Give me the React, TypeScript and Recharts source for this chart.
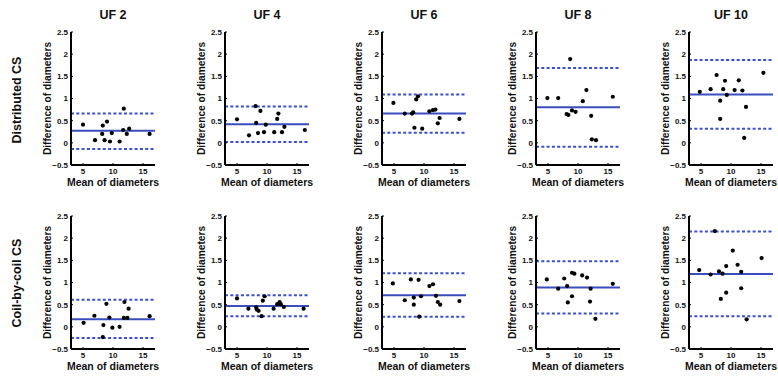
import React from 'react';
import { ScatterChart, Scatter, XAxis, YAxis, ReferenceLine } from 'recharts';

// ---------- categories / labels ----------
const ufLabels = ['UF 2', 'UF 4', 'UF 6', 'UF 8', 'UF 10'];
const rowLabels = ['Distributed CS', 'Coil-by-coil CS'];
const xTicks = [5, 10, 15];
const yTicks = [-0.5, 0, 0.5, 1, 1.5, 2, 2.5];
const yTickLabels = ['\u22120.5', '0', '0.5', '1', '1.5', '2', '2.5'];
const xLabel = 'Mean of diameters';
const yLabel = 'Difference of diameters';

// ---------- Distributed CS ----------
const distUF2 = [
  { x: 5.0, y: 0.41 }, { x: 7.0, y: 0.06 }, { x: 8.3, y: 0.39 }, { x: 8.2, y: 0.2 },
  { x: 8.6, y: 0.06 }, { x: 9.0, y: 0.48 }, { x: 9.5, y: 0.03 }, { x: 9.8, y: 0.22 },
  { x: 11.1, y: 0.03 }, { x: 11.8, y: 0.77 }, { x: 11.7, y: 0.29 }, { x: 12.3, y: 0.2 },
  { x: 12.7, y: 0.32 }, { x: 16.1, y: 0.2 },
];
const distUF4 = [
  { x: 5.0, y: 0.53 }, { x: 7.0, y: 0.17 }, { x: 8.1, y: 0.83 }, { x: 8.2, y: 0.45 },
  { x: 8.5, y: 0.22 }, { x: 8.9, y: 0.72 }, { x: 9.5, y: 0.24 }, { x: 9.8, y: 0.41 },
  { x: 11.2, y: 0.24 }, { x: 11.7, y: 0.54 }, { x: 11.9, y: 0.66 }, { x: 12.5, y: 0.24 },
  { x: 12.9, y: 0.36 }, { x: 16.3, y: 0.29 },
];
const distUF6 = [
  { x: 4.9, y: 0.9 }, { x: 6.8, y: 0.66 }, { x: 8.0, y: 0.66 }, { x: 8.2, y: 0.69 },
  { x: 8.7, y: 0.98 }, { x: 9.0, y: 1.05 }, { x: 8.4, y: 0.34 }, { x: 9.7, y: 0.32 },
  { x: 10.9, y: 0.71 }, { x: 11.5, y: 0.74 }, { x: 11.9, y: 0.75 }, { x: 12.3, y: 0.44 },
  { x: 12.6, y: 0.56 }, { x: 15.9, y: 0.54 },
];
const distUF8 = [
  { x: 4.9, y: 1.01 }, { x: 6.7, y: 1.01 }, { x: 8.7, y: 1.89 }, { x: 8.1, y: 0.65 },
  { x: 8.4, y: 0.63 }, { x: 9.0, y: 0.73 }, { x: 9.6, y: 0.7 }, { x: 10.8, y: 0.94 },
  { x: 11.4, y: 1.19 }, { x: 12.2, y: 0.61 }, { x: 12.3, y: 0.08 }, { x: 13.0, y: 0.06 },
  { x: 15.8, y: 1.04 },
];
const distUF10 = [
  { x: 4.8, y: 1.15 }, { x: 6.6, y: 1.21 }, { x: 7.6, y: 1.53 }, { x: 8.2, y: 0.95 },
  { x: 8.2, y: 0.54 }, { x: 8.7, y: 1.21 }, { x: 9.0, y: 1.4 }, { x: 9.3, y: 1.08 },
  { x: 10.6, y: 1.19 }, { x: 11.3, y: 1.41 }, { x: 11.9, y: 1.18 }, { x: 12.5, y: 0.81 },
  { x: 12.2, y: 0.11 }, { x: 15.4, y: 1.58 },
];
const distMean = [0.27, 0.42, 0.66, 0.8, 1.09];
const distUpper = [0.66, 0.82, 1.09, 1.69, 1.87];
const distLower = [-0.14, 0.02, 0.23, -0.09, 0.32];

// ---------- Coil-by-coil CS ----------
const coilUF2 = [
  { x: 5.1, y: 0.09 }, { x: 6.9, y: 0.25 }, { x: 8.4, y: 0.04 }, { x: 8.3, y: -0.23 },
  { x: 8.9, y: 0.52 }, { x: 9.4, y: 0.21 }, { x: 9.9, y: -0.02 }, { x: 11.1, y: 0.0 },
  { x: 11.8, y: 0.2 }, { x: 11.9, y: 0.56 }, { x: 12.4, y: 0.2 }, { x: 12.6, y: 0.41 },
  { x: 16.1, y: 0.24 },
];
const coilUF4 = [
  { x: 5.0, y: 0.64 }, { x: 6.9, y: 0.41 }, { x: 8.2, y: 0.44 }, { x: 8.3, y: 0.39 },
  { x: 8.6, y: 0.36 }, { x: 9.1, y: 0.24 }, { x: 9.3, y: 0.59 }, { x: 9.6, y: 0.69 },
  { x: 11.1, y: 0.41 }, { x: 11.7, y: 0.51 }, { x: 12.1, y: 0.56 }, { x: 12.3, y: 0.51 },
  { x: 12.8, y: 0.45 }, { x: 16.1, y: 0.41 },
];
const coilUF6 = [
  { x: 4.8, y: 0.98 }, { x: 6.8, y: 0.6 }, { x: 7.8, y: 1.07 }, { x: 8.3, y: 0.66 },
  { x: 8.3, y: 0.5 }, { x: 9.1, y: 1.06 }, { x: 9.2, y: 0.23 }, { x: 9.5, y: 0.69 },
  { x: 10.9, y: 0.92 }, { x: 11.5, y: 0.96 }, { x: 12.0, y: 0.7 }, { x: 12.3, y: 0.56 },
  { x: 12.7, y: 0.5 }, { x: 15.9, y: 0.58 },
];
const coilUF8 = [
  { x: 4.8, y: 1.07 }, { x: 6.7, y: 0.86 }, { x: 7.7, y: 1.09 }, { x: 8.2, y: 0.92 },
  { x: 8.3, y: 0.55 }, { x: 9.0, y: 0.69 }, { x: 9.0, y: 1.22 }, { x: 9.4, y: 1.2 },
  { x: 10.7, y: 1.16 }, { x: 11.5, y: 1.11 }, { x: 12.1, y: 0.86 }, { x: 12.0, y: 0.57 },
  { x: 12.9, y: 0.18 }, { x: 15.8, y: 0.97 },
];
const coilUF10 = [
  { x: 4.7, y: 1.28 }, { x: 6.6, y: 1.18 }, { x: 7.3, y: 2.16 }, { x: 8.0, y: 1.25 },
  { x: 8.3, y: 0.63 }, { x: 8.6, y: 1.2 }, { x: 9.2, y: 1.37 }, { x: 9.2, y: 0.77 },
  { x: 10.3, y: 1.72 }, { x: 11.1, y: 1.4 }, { x: 11.7, y: 1.24 }, { x: 11.7, y: 0.87 },
  { x: 12.6, y: 0.17 }, { x: 15.1, y: 1.55 },
];
const coilMean = [0.17, 0.47, 0.71, 0.89, 1.19];
const coilUpper = [0.61, 0.71, 1.21, 1.48, 2.15];
const coilLower = [-0.25, 0.24, 0.23, 0.3, 0.24];

const rows = [
  { points: [distUF2, distUF4, distUF6, distUF8, distUF10], mean: distMean, upper: distUpper, lower: distLower },
  { points: [coilUF2, coilUF4, coilUF6, coilUF8, coilUF10], mean: coilMean, upper: coilUpper, lower: coilLower },
];

// ---------- layout ----------
const FONT = '"Liberation Sans", Arial, Helvetica, sans-serif';
const PLOT_LEFTS = [71, 225, 382, 536, 689];
const ROW_TOPS = [32, 216];
const PLOT_W = 84;
const PLOT_H = 133;
const M_TOP = 20;
const Y_AXIS_W = 60;
const X_AXIS_H = 24;
const M_BOTTOM = 6;
const CHART_W = Y_AXIS_W + PLOT_W + 6;
const CHART_H = M_TOP + PLOT_H + X_AXIS_H + M_BOTTOM;
const BLUE_SOLID = '#3a4dbf';
const BLUE_DASH = '#3b4fd0';

const tickStyle = { fontSize: 8, fontWeight: 700, fill: '#111', fontFamily: FONT };

const fmtY = (v: number) => {
  const i = yTicks.indexOf(v);
  return i >= 0 ? yTickLabels[i] : String(v);
};

const Dot = (props: any) => {
  const { cx, cy } = props;
  if (cx == null || cy == null) return null;
  return <circle cx={cx} cy={cy} r={2.1} fill="#000" />;
};

const YLabelContent = (props: any) => {
  const vb = props.viewBox || {};
  const x = (vb.x ?? 0) + (vb.width ?? Y_AXIS_W) - 24;
  const y = (vb.y ?? M_TOP) + (vb.height ?? PLOT_H) / 2;
  return (
    <text
      x={x}
      y={y}
      transform={`rotate(-90 ${x} ${y})`}
      textAnchor="middle"
      dominantBaseline="central"
      style={{ fontSize: 10.2, fontWeight: 700, fontFamily: FONT, fill: '#111' }}
    >
      {yLabel}
    </text>
  );
};

const XLabelContent = (props: any) => {
  const vb = props.viewBox || {};
  const x = (vb.x ?? Y_AXIS_W) + (vb.width ?? PLOT_W) / 2;
  const y = (vb.y ?? M_TOP + PLOT_H) + 17;
  return (
    <text
      x={x}
      y={y}
      textAnchor="middle"
      dominantBaseline="central"
      style={{ fontSize: 10.5, fontWeight: 700, fontFamily: FONT, fill: '#111' }}
    >
      {xLabel}
    </text>
  );
};

function Panel({ data, mean, upper, lower }: { data: { x: number; y: number }[]; mean: number; upper: number; lower: number }) {
  return (
    <ScatterChart
      width={CHART_W}
      height={CHART_H}
      margin={{ top: M_TOP, right: CHART_W - Y_AXIS_W - PLOT_W, bottom: M_BOTTOM, left: 0 }}
    >
      <XAxis
        type="number"
        dataKey="x"
        domain={[3, 17]}
        ticks={xTicks}
        allowDataOverflow
        height={X_AXIS_H}
        axisLine={{ stroke: '#000', strokeWidth: 2 }}
        tickLine={{ stroke: '#000', strokeWidth: 1 }}
        tickSize={-2}
        tickMargin={5}
        tick={tickStyle}
        label={{ content: XLabelContent }}
      />
      <YAxis
        type="number"
        dataKey="y"
        domain={[-0.5, 2.5]}
        ticks={yTicks}
        allowDataOverflow
        width={Y_AXIS_W}
        axisLine={{ stroke: '#000', strokeWidth: 2 }}
        tickLine={{ stroke: '#000', strokeWidth: 1 }}
        tickSize={-2}
        tickMargin={5}
        tick={tickStyle}
        tickFormatter={fmtY}
        interval={0}
        label={{ content: YLabelContent }}
      />
      <ReferenceLine y={upper} stroke={BLUE_DASH} strokeWidth={2} strokeDasharray="3 2.3" />
      <ReferenceLine y={lower} stroke={BLUE_DASH} strokeWidth={2} strokeDasharray="3 2.3" />
      <ReferenceLine y={mean} stroke={BLUE_SOLID} strokeWidth={2} />
      <Scatter data={data} shape={<Dot />} isAnimationActive={false} />
    </ScatterChart>
  );
}

export default function App() {
  return (
    <div style={{ position: 'absolute', left: 0, top: 0, width: 778, height: 378, background: '#fff', overflow: 'hidden', fontFamily: FONT }}>
      {rows.map((row, r) =>
        row.points.map((pts, c) => (
          <div
            key={`${r}-${c}`}
            style={{ position: 'absolute', left: PLOT_LEFTS[c] - Y_AXIS_W, top: ROW_TOPS[r] - M_TOP, width: CHART_W, height: CHART_H }}
          >
            <Panel data={pts} mean={row.mean[c]} upper={row.upper[c]} lower={row.lower[c]} />
          </div>
        ))
      )}
      <svg width={778} height={378} style={{ position: 'absolute', left: 0, top: 0, pointerEvents: 'none' }}>
        {ufLabels.map((t, c) => (
          <text
            key={t}
            x={PLOT_LEFTS[c] + PLOT_W / 2}
            y={15}
            textAnchor="middle"
            dominantBaseline="central"
            style={{ fontSize: 12.5, fontWeight: 700, fontFamily: FONT, fill: '#111' }}
          >
            {t}
          </text>
        ))}
        {rowLabels.map((t, r) => {
          const x = 17;
          const y = r === 0 ? 100 : 283;
          return (
            <text
              key={t}
              x={x}
              y={y}
              transform={`rotate(-90 ${x} ${y})`}
              textAnchor="middle"
              dominantBaseline="central"
              style={{ fontSize: 12.5, fontWeight: 700, fontFamily: FONT, fill: '#111' }}
            >
              {t}
            </text>
          );
        })}
      </svg>
    </div>
  );
}
